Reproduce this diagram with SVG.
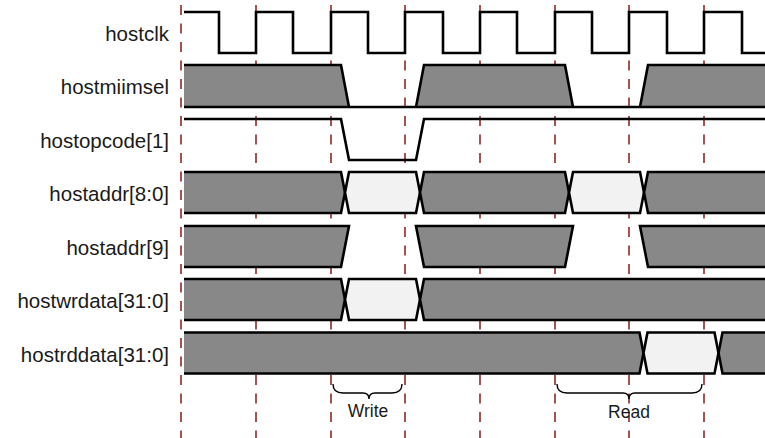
<svg xmlns="http://www.w3.org/2000/svg" width="765" height="438" viewBox="0 0 765 438">
<style>
.lbl{font-family:"Liberation Sans",Arial,sans-serif;font-size:20.5px;fill:#1a1a1a;text-anchor:end}
.ann{font-family:"Liberation Sans",Arial,sans-serif;font-size:17.5px;fill:#1a1a1a;text-anchor:middle}
.grid{stroke:#8b1a1a;stroke-width:1.5;stroke-dasharray:10 8.5;fill:none}
.w{fill:none;stroke:#000;stroke-width:2.6;stroke-linejoin:miter}
.d{fill:#888888;stroke:none}
.l{fill:#f2f2f2;stroke:#000;stroke-width:2.6}
.br{fill:none;stroke:#000;stroke-width:1.4}
</style>
<rect width="765" height="438" fill="#fff"/>
<g id="gridlines">
<line class="grid" x1="181" y1="5" x2="181" y2="438"/>
<line class="grid" x1="256" y1="5" x2="256" y2="438"/>
<line class="grid" x1="331" y1="5" x2="331" y2="438"/>
<line class="grid" x1="405" y1="5" x2="405" y2="438"/>
<line class="grid" x1="480" y1="5" x2="480" y2="438"/>
<line class="grid" x1="555" y1="5" x2="555" y2="438"/>
<line class="grid" x1="629" y1="5" x2="629" y2="438"/>
<line class="grid" x1="704" y1="5" x2="704" y2="438"/>
</g>
<g id="labels">
<text class="lbl" x="169" y="40.5">hostclk</text>
<text class="lbl" x="169" y="94">hostmiimsel</text>
<text class="lbl" x="169" y="147.5">hostopcode[1]</text>
<text class="lbl" x="169" y="201">hostaddr[8:0]</text>
<text class="lbl" x="169" y="254.5">hostaddr[9]</text>
<text class="lbl" x="169" y="308">hostwrdata[31:0]</text>
<text class="lbl" x="169" y="361.5">hostrddata[31:0]</text>
</g>
<g id="hostclk">
<path class="w" d="M184,12 H219 V53 H256 V12 H293 V53 H331 V12 H368 V53 H405 V12 H443 V53 H480 V12 H517 V53 H555 V12 H592 V53 H629 V12 H667 V53 H704 V12 H742 V53 H766"/>
</g>
<g id="hostmiimsel">
<path class="d" d="M184,65 H341 L349,107 H184 Z"/>
<path class="d" d="M416,107 L424,65 H565 L573,107 Z"/>
<path class="d" d="M640,107 L648,65 H766 V107 Z"/>
<path class="w" d="M184,65 H341 L349,107"/>
<path class="w" d="M416,107 L424,65 H565 L573,107"/>
<path class="w" d="M640,107 L648,65 H766"/>
<path class="w" d="M184,107 H766"/>
</g>
<g id="hostopcode1">
<path class="w" d="M184,119 H341 L349,160 H416 L424,119 H766"/>
</g>
<g id="hostaddr80">
<path class="d" d="M184,172 H341 L345,192.5 L341,213 H184 Z"/>
<path class="w" d="M184,172 H341 L345,192.5 L341,213 H184"/>
<path class="l" d="M349,172 H416 L420,192.5 L416,213 H349 L345,192.5 Z"/>
<path class="d" d="M424,172 H565 L569,192.5 L565,213 H424 L420,192.5 Z"/>
<path class="w" d="M424,172 H565 L569,192.5 L565,213 H424 L420,192.5 Z"/>
<path class="l" d="M573,172 H640 L644,192.5 L640,213 H573 L569,192.5 Z"/>
<path class="d" d="M766,172 H648 L644,192.5 L648,213 H766 Z"/>
<path class="w" d="M766,172 H648 L644,192.5 L648,213 H766"/>
</g>
<g id="hostaddr9">
<path class="d" d="M184,226 H349 L341,267 H184 Z"/>
<path class="w" d="M184,226 H349 L341,267 H184"/>
<path class="d" d="M416,226 H573 L565,267 H424 Z"/>
<path class="w" d="M416,226 H573 L565,267 H424 Z"/>
<path class="d" d="M640,226 H766 V267 H648 Z"/>
<path class="w" d="M766,226 H640 L648,267 H766"/>
</g>
<g id="hostwrdata">
<path class="d" d="M184,279 H341 L345,299.5 L341,320 H184 Z"/>
<path class="w" d="M184,279 H341 L345,299.5 L341,320 H184"/>
<path class="l" d="M349,279 H416 L420,299.5 L416,320 H349 L345,299.5 Z"/>
<path class="d" d="M766,279 H424 L420,299.5 L424,320 H766 Z"/>
<path class="w" d="M766,279 H424 L420,299.5 L424,320 H766"/>
</g>
<g id="hostrddata">
<path class="d" d="M184,332.5 H639.5 L643.5,353 L639.5,373.5 H184 Z"/>
<path class="w" d="M184,332.5 H639.5 L643.5,353 L639.5,373.5 H184"/>
<path class="l" d="M647.5,332.5 H714.5 L718.5,353 L714.5,373.5 H647.5 L643.5,353 Z"/>
<path class="d" d="M766,332.5 H722.5 L718.5,353 L722.5,373.5 H766 Z"/>
<path class="w" d="M766,332.5 H722.5 L718.5,353 L722.5,373.5 H766"/>
</g>
<g id="connectors">
<path class="br" d="M333,384 Q333,393 343,393 H363 Q369,393 369,399 Q369,393 375,393 H392 Q402,393 402,384"/>
<path class="br" d="M557,384 Q557,393 567,393 H623 Q629,393 629,399 Q629,393 635,393 H692 Q702,393 702,384"/>
</g>
<g id="annotations">
<text class="ann" x="368" y="417">Write</text>
<text class="ann" x="629" y="418">Read</text>
</g>
</svg>
